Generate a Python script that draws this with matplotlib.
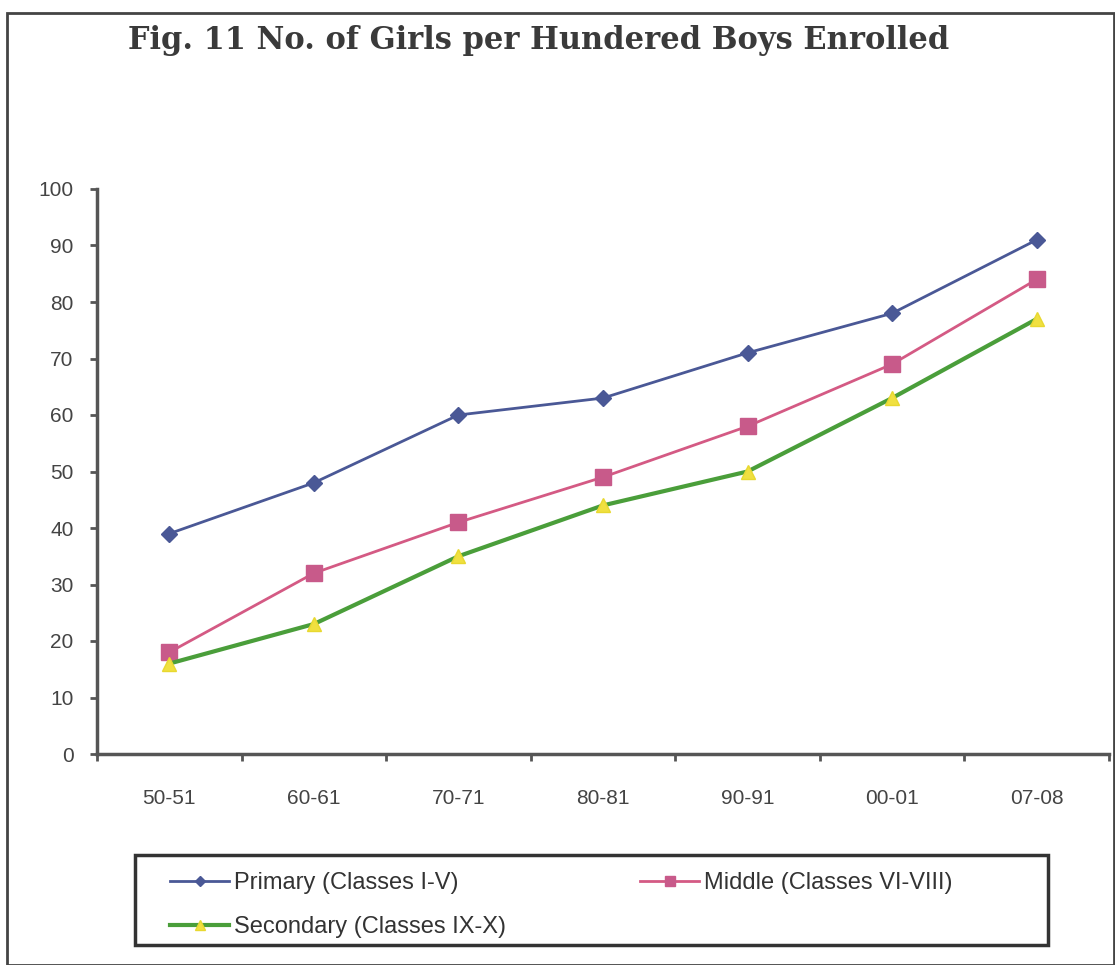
import matplotlib
matplotlib.use("Agg")
import matplotlib.pyplot as plt
from matplotlib.patches import Rectangle

categories = ["50-51", "60-61", "70-71", "80-81", "90-91", "00-01", "07-08"]
primary = [39, 48, 60, 63, 71, 78, 91]
middle = [18, 32, 41, 49, 58, 69, 84]
secondary = [16, 23, 35, 44, 50, 63, 77]
yticks = list(range(0, 101, 10))

W, H = 1115, 965
fig = plt.figure(figsize=(W / 100, H / 100), dpi=100)
fig.patch.set_facecolor("white")

# outer border
fig.patches.append(Rectangle((7 / W, 0), (W - 8) / W, (H - 13) / H, transform=fig.transFigure,
                             fill=False, edgecolor="#444444", linewidth=2))

fig.text(128 / W, 1 - 40 / H, "Fig. 11 No. of Girls per Hundered Boys Enrolled",
         fontsize=22, fontweight="bold", family="DejaVu Serif", color="#3a3a3a",
         ha="left", va="center")

ax = fig.add_axes([97 / W, 1 - 754 / H, (1109 - 97) / W, (754 - 189) / H])
x = list(range(len(categories)))
l1, = ax.plot(x, primary, color="#4a5896", marker="D", markersize=8, linewidth=2,
              label="Primary (Classes I-V)")
l2, = ax.plot(x, middle, color="#d45a84", marker="s", markersize=11, linewidth=2,
              markerfacecolor="#c85a8a", markeredgecolor="#c85a8a",
              label="Middle (Classes VI-VIII)")
l3, = ax.plot(x, secondary, color="#4a9e3a", marker="^", markersize=10, linewidth=3,
              markerfacecolor="#f0e040", markeredgecolor="#e8d830",
              label="Secondary (Classes IX-X)")

ax.set_xlim(-0.5, len(categories) - 0.5)
ax.set_ylim(0, 100)
ax.set_yticks(yticks)
ax.set_xticks([i + 0.5 for i in range(-1, len(categories))], minor=False)
ax.set_xticklabels([])
ax.set_xticks(x, minor=True)
ax.set_xticklabels(categories, minor=True)
ax.tick_params(axis="x", which="minor", length=0, pad=25, labelsize=15, labelcolor="#444444")
ax.tick_params(axis="x", which="major", length=5, width=2, direction="out", color="#555555")
ax.tick_params(axis="y", length=5, width=2, direction="out", labelsize=15, pad=12,
               labelcolor="#444444", color="#555555")
for lbl in ax.get_xticklabels(minor=True) + ax.get_yticklabels():
    lbl.set_family("Liberation Sans")
for s in ["top", "right"]:
    ax.spines[s].set_visible(False)
for s in ["left", "bottom"]:
    ax.spines[s].set_color("#555555")
    ax.spines[s].set_linewidth(2.5)

# legend box
fig.patches.append(Rectangle((135 / W, 1 - 945 / H), (1048 - 135) / W, (945 - 855) / H,
                             transform=fig.transFigure, fill=False, edgecolor="#333333",
                             linewidth=2.5))
leg = fig.legend([l1, l3, l2],
                 ["Primary (Classes I-V)", "Secondary (Classes IX-X)", "Middle (Classes VI-VIII)"],
                 ncol=2, loc="upper left",
                 bbox_to_anchor=(170 / W, 1 - 872 / H),
                 frameon=False,
                 prop={"family": "Liberation Sans", "size": 17}, handlelength=2.5,
                 handletextpad=0.2, borderaxespad=0, borderpad=0, labelspacing=0.93,
                 columnspacing=5.7, markerscale=0.7)
for t in leg.get_texts():
    t.set_color("#333333")

fig.savefig("out.png", dpi=100, facecolor="white")
